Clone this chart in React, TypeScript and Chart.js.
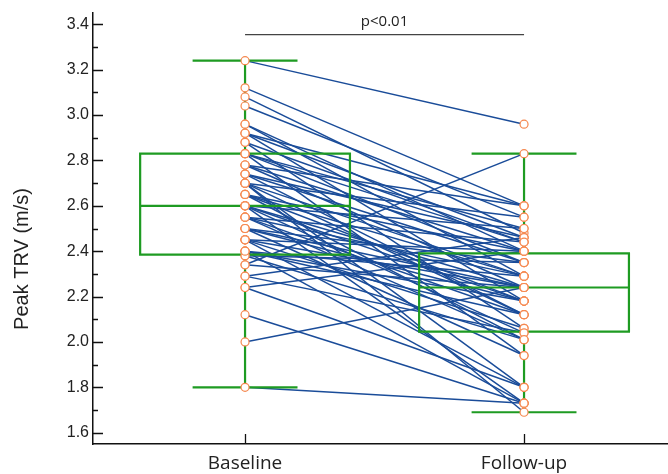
import React, { useEffect, useRef } from "react";
import { Chart, registerables } from "chart.js";

Chart.register(...registerables);

const CATEGORIES = ["Baseline", "Follow-up"];

// paired measurements (m/s)
const BASELINE = [
  3.24, 3.12, 3.08, 3.04, 2.96, 2.96, 2.92, 2.92, 2.88, 2.88,
  2.83, 2.83, 2.83, 2.78, 2.78, 2.74, 2.74, 2.70, 2.70, 2.70,
  2.65, 2.65, 2.65, 2.60, 2.60, 2.60, 2.60, 2.55, 2.55, 2.55,
  2.50, 2.50, 2.50, 2.45, 2.45, 2.45, 2.40, 2.40, 2.40, 2.38,
  2.38, 2.34, 2.34, 2.29, 2.29, 2.24, 2.24, 2.12, 2.00, 1.80,
  2.70, 2.92, 2.83, 2.78, 2.74, 2.70, 2.65, 2.60, 2.55, 2.50,
  2.45, 2.40,
];
const FOLLOW_UP = [
  2.96, 2.60, 2.48, 2.55, 2.40, 2.29, 2.60, 2.18, 2.44, 2.06,
  2.50, 2.35, 1.94, 2.60, 2.24, 2.46, 2.12, 2.55, 2.29, 1.80,
  2.40, 2.18, 2.01, 2.50, 2.24, 2.04, 1.73, 2.44, 2.29, 2.12,
  2.35, 2.18, 1.94, 2.40, 2.24, 2.06, 2.29, 2.18, 1.73, 2.35,
  2.01, 2.83, 2.24, 2.46, 2.04, 2.40, 1.80, 1.73, 2.24, 1.73,
  1.69, 2.46, 2.44, 2.40, 2.35, 2.12, 2.29, 2.18, 2.01, 2.24,
  1.80, 2.12,
];

// box stats: [min whisker, Q1, median, Q3, max whisker]
const BASELINE_BOX = [1.8, 2.385, 2.6, 2.83, 3.24];
const FOLLOW_UP_BOX = [1.69, 2.045, 2.24, 2.39, 2.83];

const Y_TICKS = [1.6, 1.8, 2.0, 2.2, 2.4, 2.6, 2.8, 3.0, 3.2, 3.4];
const Y_TITLE = "Peak TRV (m/s)";
const P_LABEL = "p<0.01";
const P_LINE_Y = 3.355;
const P_TEXT_Y = 3.41;

const LINE_COLOR = "#1A4C99";
const BOX_COLOR = "#1E9B22";
const POINT_COLOR = "#F5884F";

const BOX_HALF = 0.376;
const CAP_HALF = 0.188;

const overlay = {
  id: "overlay",
  beforeDatasetDraw(chart: any, args: any) {
    const ds = chart.data.datasets[args.index];
    if (ds.label !== "points") return;
    const { ctx, scales } = chart;
    const xs = scales.x;
    const ys = scales.y;
    ctx.save();
    ctx.strokeStyle = BOX_COLOR;
    ctx.lineWidth = 2.2;
    [BASELINE_BOX, FOLLOW_UP_BOX].forEach((b, i) => {
      const cx = xs.getPixelForValue(i);
      const l = xs.getPixelForValue(i - BOX_HALF);
      const r = xs.getPixelForValue(i + BOX_HALF);
      const cl = xs.getPixelForValue(i - CAP_HALF);
      const cr = xs.getPixelForValue(i + CAP_HALF);
      const [mn, q1, md, q3, mx] = b.map((v) => ys.getPixelForValue(v));
      ctx.beginPath();
      ctx.rect(l, q3, r - l, q1 - q3);
      ctx.moveTo(l, md);
      ctx.lineTo(r, md);
      ctx.moveTo(cx, q3);
      ctx.lineTo(cx, mx);
      ctx.moveTo(cx, q1);
      ctx.lineTo(cx, mn);
      ctx.moveTo(cl, mx);
      ctx.lineTo(cr, mx);
      ctx.moveTo(cl, mn);
      ctx.lineTo(cr, mn);
      ctx.stroke();
    });
    ctx.restore();
  },
  afterDraw(chart: any) {
    const { ctx, scales, chartArea } = chart;
    const xs = scales.x;
    const ys = scales.y;
    ctx.save();
    ctx.strokeStyle = "#111";
    ctx.lineWidth = 1.3;
    ctx.beginPath();
    Y_TICKS.forEach((v, i) => {
      const y = Math.round(ys.getPixelForValue(v)) + 0.5;
      ctx.moveTo(chartArea.left, y);
      ctx.lineTo(chartArea.left + 10, y);
      if (i < Y_TICKS.length - 1) {
        const ym = Math.round(ys.getPixelForValue((v + Y_TICKS[i + 1]) / 2)) + 0.5;
        ctx.moveTo(chartArea.left, ym);
        ctx.lineTo(chartArea.left + 5, ym);
      }
    });
    CATEGORIES.forEach((_, i) => {
      const x = Math.round(xs.getPixelForValue(i)) + 0.5;
      ctx.moveTo(x, chartArea.bottom);
      ctx.lineTo(x, chartArea.bottom - 10);
    });
    ctx.stroke();

    // y title
    ctx.fillStyle = "#222";
    ctx.font = '20px "Liberation Sans", Arial, sans-serif';
    ctx.textAlign = "center";
    ctx.textBaseline = "middle";
    ctx.translate(22, 259);
    ctx.rotate(-Math.PI / 2);
    ctx.fillText(Y_TITLE, 0, 0);
    ctx.restore();

    // significance bar
    ctx.save();
    const x0 = xs.getPixelForValue(0);
    const x1 = xs.getPixelForValue(1);
    const py = ys.getPixelForValue(P_LINE_Y);
    ctx.strokeStyle = "#444";
    ctx.lineWidth = 1.3;
    ctx.beginPath();
    ctx.moveTo(x0, py);
    ctx.lineTo(x1, py);
    ctx.stroke();
    ctx.fillStyle = "#222";
    ctx.font = '15px "Open Sans", sans-serif';
    ctx.textAlign = "center";
    ctx.textBaseline = "middle";
    ctx.fillText(P_LABEL, (x0 + x1) / 2, ys.getPixelForValue(P_TEXT_Y));
    ctx.restore();
  },
};

export default function App() {
  const ref = useRef<HTMLCanvasElement>(null);
  useEffect(() => {
    if (!ref.current) return;
    const lineSets = BASELINE.map((b, i) => ({
      type: "line" as const,
      label: "pair" + i,
      data: [
        { x: 0, y: b },
        { x: 1, y: FOLLOW_UP[i] },
      ],
      borderColor: LINE_COLOR,
      borderWidth: 1.5,
      pointRadius: 0,
      fill: false,
      order: 2,
    }));
    const pts = [
      ...BASELINE.map((v) => ({ x: 0, y: v })),
      ...FOLLOW_UP.map((v) => ({ x: 1, y: v })),
    ];
    const chart = new Chart(ref.current, {
      type: "scatter",
      data: {
        datasets: [
          ...lineSets,
          {
            type: "scatter" as const,
            label: "points",
            data: pts,
            pointRadius: 4,
            pointBorderWidth: 1.2,
            borderColor: POINT_COLOR,
            backgroundColor: "#fff",
            order: 0,
          },
        ] as any,
      },
      options: {
        animation: false,
        responsive: false,
        layout: { autoPadding: false, padding: { top: 13, right: 0, left: 0, bottom: 0 } },
        plugins: { legend: { display: false }, tooltip: { enabled: false } },
        scales: {
          x: {
            type: "linear",
            min: -0.545,
            max: 1.516,
            grid: { display: false, drawTicks: false },
            border: { display: true, color: "#111", width: 1.5 },
            afterBuildTicks: (s: any) => {
              s.ticks = CATEGORIES.map((_, i) => ({ value: i }));
            },
            afterFit: (s: any) => {
              s.height = 30;
              s.paddingLeft = 0;
              s.paddingRight = 0;
            },
            ticks: {
              padding: 8,
              color: "#222",
              font: { family: '"Open Sans", sans-serif', size: 19 },
              callback: (v: any) => CATEGORIES[v] ?? "",
            },
          },
          y: {
            type: "linear",
            min: 1.55,
            max: 3.45,
            grid: { display: false, drawTicks: false },
            border: { display: true, color: "#111", width: 1.5 },
            afterBuildTicks: (s: any) => {
              s.ticks = Y_TICKS.map((v) => ({ value: v }));
            },
            afterFit: (s: any) => {
              s.width = 93;
              s.paddingTop = 0;
              s.paddingBottom = 0;
            },
            ticks: {
              padding: 4,
              color: "#222",
              font: { family: '"Liberation Sans", Arial, sans-serif', size: 16 },
              callback: (v: any) => Number(v).toFixed(1),
            },
          },
        },
      } as any,
      plugins: [overlay],
    });
    return () => chart.destroy();
  }, []);
  return (
    <div style={{ position: "fixed", left: 0, top: 0, width: 668, height: 474, background: "#fff" }}>
      <canvas ref={ref} width={668} height={474} style={{ display: "block" }} />
    </div>
  );
}
